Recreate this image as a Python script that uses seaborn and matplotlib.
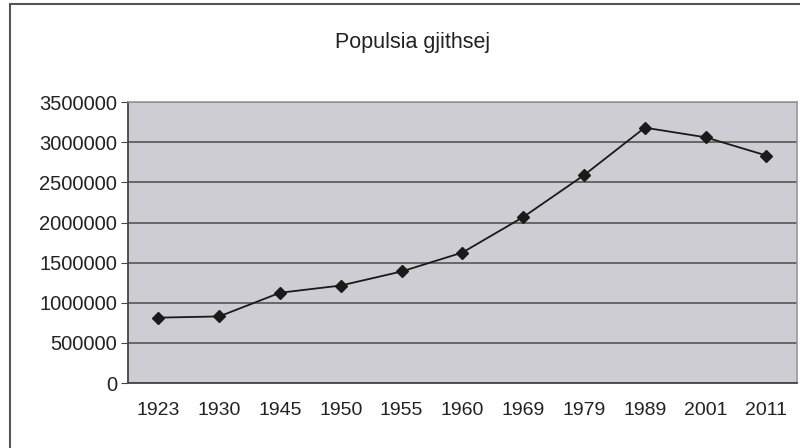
import numpy as np
import pandas as pd
import matplotlib.pyplot as plt
from matplotlib.patches import Rectangle
import seaborn as sns

years = ["1923", "1930", "1945", "1950", "1955", "1960", "1969", "1979", "1989", "2001", "2011"]
population = [815000, 830000, 1125000, 1215000, 1390000, 1626000, 2068000, 2590000, 3182000, 3062000, 2835000]
y_ticks = [0, 500000, 1000000, 1500000, 2000000, 2500000, 3000000, 3500000]

df = pd.DataFrame({"year": years, "population": population})

sns.set_style("white")
plt.rcParams["font.family"] = ["Liberation Sans", "DejaVu Sans"]

fig = plt.figure(figsize=(8, 4.48), dpi=100)
ax = fig.add_axes([0.16, 0.145, 0.836, 0.627])
ax.set_facecolor("#cdcdd3")

# chart area border (Excel style)
fig.patches.append(Rectangle((0.0125, -0.05), 1.2, 1.04, transform=fig.transFigure,
                             fill=False, edgecolor="#555555", linewidth=1.5))

sns.pointplot(data=df, x="year", y="population", color="#1a1a1a", markers="D",
              markersize=6, linewidth=1.3, ax=ax)

ax.set_ylim(0, 3500000)
ax.set_xlim(-0.5, len(years) - 0.5)
ax.set_yticks(y_ticks)
ax.set_yticklabels([str(v) for v in y_ticks], fontsize=14.5, color="#222222")
ax.yaxis.grid(True, color="#555555", linewidth=1.2)
ax.set_axisbelow(True)

ax.set_xticks(range(len(years)))
ax.set_xticklabels(years, fontsize=14, color="#222222")
ax.set_xticks(np.arange(-0.5, len(years), 1.0), minor=True)
ax.tick_params(axis="x", which="major", length=0, pad=14)
ax.tick_params(axis="x", which="minor", length=5, color="#444444", direction="out")
ax.tick_params(axis="y", length=5, color="#444444", direction="out", pad=3, left=True)

for side in ["top", "right"]:
    ax.spines[side].set_color("#999999")
    ax.spines[side].set_linewidth(1.2)
for side in ["left", "bottom"]:
    ax.spines[side].set_color("#444444")
    ax.spines[side].set_linewidth(1.3)

ax.set_xlabel("")
ax.set_ylabel("")
fig.text(0.516, 0.905, "Populsia gjithsej", ha="center", va="center", fontsize=15.5, color="#222222")

fig.savefig("out.png", dpi=100, facecolor="white")
